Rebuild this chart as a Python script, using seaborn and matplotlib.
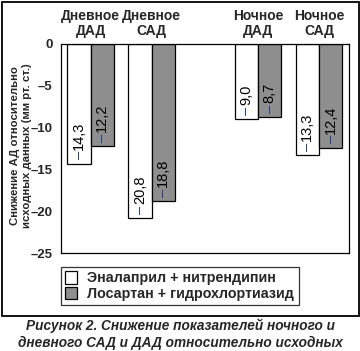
import matplotlib
matplotlib.use("Agg")
import matplotlib.pyplot as plt
import seaborn as sns
import pandas as pd
from matplotlib.patches import Rectangle, Patch

categories = ["Дневное\nДАД", "Дневное\nСАД", "Ночное\nДАД", "Ночное\nСАД"]
positions = [0.0, 1.0, 2.746, 3.746]
series_names = ["Эналаприл + нитрендипин", "Лосартан + гидрохлортиазид"]
enal_values = [-14.3, -20.8, -9.0, -13.3]
losar_values = [-12.2, -18.8, -8.7, -12.4]
yticks = [0, -5, -10, -15, -20, -25]
ytick_labels = ["0", "–5", "–10", "–15", "–20", "–25"]

colors = ["#ffffff", "#8e8e8e"]

df = pd.DataFrame({
    "pos": positions * 2,
    "value": enal_values + losar_values,
    "series": [series_names[0]] * 4 + [series_names[1]] * 4,
})

sns.set_style("white")
plt.rcParams["font.family"] = ["Liberation Sans", "DejaVu Sans"]

fig = plt.figure(figsize=(3.6, 3.51), dpi=100)
ax = fig.add_axes([61 / 360, 1 - 253 / 351, 288 / 360, 209 / 351])

sns.barplot(data=df, x="pos", y="value", hue="series", native_scale=True,
            palette=colors, width=0.77, edgecolor="black", linewidth=0.9,
            legend=False, ax=ax, errorbar=None, saturation=1)

ax.set_xlim(-0.484, 4.238)
ax.set_ylim(-25, 0)
ax.set_yticks(yticks)
ax.set_yticklabels(ytick_labels, fontsize=9.5, fontweight="bold")
ax.set_xticks([])
ax.set_xlabel("")
ax.set_ylabel("")
ax.tick_params(axis="y", direction="out", length=4, width=0.9, color="black", pad=2)
for s in ax.spines.values():
    s.set_visible(True)
    s.set_color("black")
    s.set_linewidth(0.9)

fig.text(21 / 360, 1 - 146 / 351,
         "Снижение АД относительно\nисходных данных (мм рт. ст.)",
         rotation=90, ha="center", va="center", fontsize=8.2,
         fontweight="bold", linespacing=1.2, multialignment="center")

# value labels (dash blue, number black)
bw = 0.77 / 2
for i, p in enumerate(positions):
    for j, vals in enumerate([enal_values, losar_values]):
        v = vals[i]
        x = p - bw / 2 if j == 0 else p + bw / 2
        ax.annotate("–", (x, v), xytext=(0, 3), textcoords="offset points",
                    rotation=90, ha="center", va="bottom", fontsize=10.5,
                    color="#1f3d8f")
        num = f"{abs(v):.1f}".replace(".", ",")
        ax.annotate(num, (x, v), xytext=(0, 10), textcoords="offset points",
                    rotation=90, ha="center", va="bottom", fontsize=10.5,
                    color="black")

# category titles
for p, c in zip(positions, categories):
    ax.text(p, 1.03, c, transform=ax.get_xaxis_transform(), ha="center",
            va="bottom", fontsize=10, fontweight="bold", linespacing=1.05)

# legend
handles = [Patch(facecolor=colors[0], edgecolor="black", linewidth=0.9),
           Patch(facecolor=colors[1], edgecolor="black", linewidth=0.9)]
leg = fig.legend(handles, series_names, loc="upper left",
                 bbox_to_anchor=(61 / 360, 1 - 267 / 351),
                 frameon=True, fancybox=False, edgecolor="black",
                 prop={"weight": "bold", "size": 10.3},
                 handlelength=0.85, handleheight=0.95, handletextpad=0.7,
                 labelspacing=0.12, borderpad=0.3, borderaxespad=0)
leg.get_frame().set_linewidth(0.9)

# outer frame
fig.patches.append(Rectangle((1.5 / 360, 1 - 315.5 / 351), 357 / 360, 314 / 351,
                             transform=fig.transFigure, fill=False,
                             edgecolor="black", linewidth=1.3))

# caption
fig.text(0.5, 1 - 326 / 351, "Рисунок 2. Снижение показателей ночного и",
         ha="center", va="center", fontsize=9.8, fontweight="bold", style="italic")
fig.text(0.5, 1 - 343 / 351, "дневного САД и ДАД относительно исходных",
         ha="center", va="center", fontsize=9.8, fontweight="bold", style="italic")

fig.savefig("out.png", dpi=100)
